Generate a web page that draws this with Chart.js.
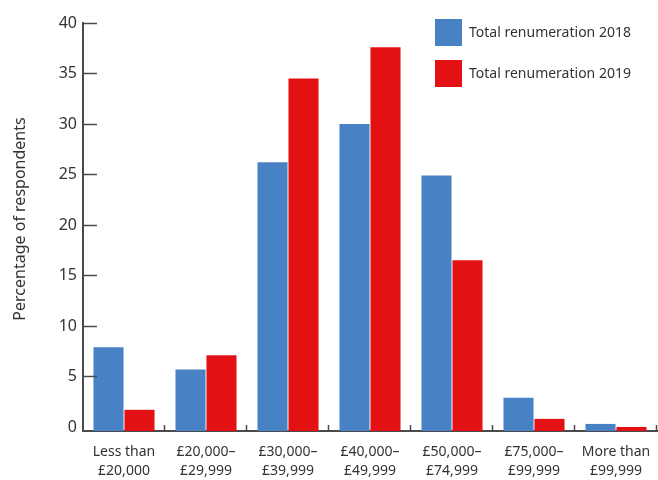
<!DOCTYPE html>
<html>
<head>
<meta charset="utf-8">
<script src="https://cdn.jsdelivr.net/npm/chart.js@4/dist/chart.umd.min.js"></script>
<style>
  html, body { margin: 0; padding: 0; background: #ffffff; }
  #wrap { width: 658px; height: 480px; }
</style>
</head>
<body>
<div id="wrap"><canvas id="chart" width="658" height="480"></canvas></div>
<script>
// Salary bands (two-line labels)
const categories = [
  ["Less than", "£20,000"],
  ["£20,000–", "£29,999"],
  ["£30,000–", "£39,999"],
  ["£40,000–", "£49,999"],
  ["£50,000–", "£74,999"],
  ["£75,000–", "£99,999"],
  ["More than", "£99,999"]
];
// Percentage of respondents in each band
const values2018 = [7.9, 5.7, 26.2, 30.0, 24.9, 2.9, 0.3];
const values2019 = [1.7, 7.1, 34.5, 37.6, 16.5, 0.8, 0];
const seriesNames = ["Total renumeration 2018", "Total renumeration 2019"];
const yTicks = [0, 5, 10, 15, 20, 25, 30, 35, 40];

const BLUE = "#4882c4";
const RED = "#e31014";
const AXIS = "#4a4a4a";
const TEXT = "#333333";
const FONT = "'Noto Sans', sans-serif";
const Y_MIN = -0.4;

// Inward tick marks, rotated axis title and the boxed legend
const decorations = {
  id: "decorations",
  afterDraw(chart) {
    const ctx = chart.ctx;
    const area = chart.chartArea;
    const x = chart.scales.x;
    const y = chart.scales.y;
    ctx.save();
    ctx.strokeStyle = AXIS;
    ctx.lineWidth = 1.5;
    // y ticks pointing into the plot
    yTicks.forEach(v => {
      if (v === 0) return;
      const py = Math.round(y.getPixelForValue(v)) + 0.5;
      ctx.beginPath();
      ctx.moveTo(area.left, py);
      ctx.lineTo(area.left + 14, py);
      ctx.stroke();
    });
    // x ticks at category boundaries, pointing up
    const half = (x.getPixelForValue(1) - x.getPixelForValue(0)) / 2;
    for (let i = 0; i < categories.length; i++) {
      const px = Math.round(x.getPixelForValue(i) + half) - 0.5;
      ctx.beginPath();
      ctx.moveTo(px, area.bottom);
      ctx.lineTo(px, area.bottom - 6);
      ctx.stroke();
    }
    // axis title
    ctx.fillStyle = TEXT;
    ctx.font = "16px " + FONT;
    ctx.textAlign = "center";
    ctx.textBaseline = "middle";
    ctx.save();
    ctx.translate(20, 219);
    ctx.rotate(-Math.PI / 2);
    ctx.fillText("Percentage of respondents", 0, 0);
    ctx.restore();
    // legend
    ctx.font = "14px " + FONT;
    ctx.textAlign = "left";
    chart.data.datasets.forEach((ds, i) => {
      const top = 19 + i * 41;
      ctx.fillStyle = ds.backgroundColor;
      ctx.fillRect(435, top, 27, 27);
      ctx.fillStyle = TEXT;
      ctx.fillText(ds.label, 469, top + 14);
    });
    ctx.restore();
  }
};

new Chart(document.getElementById("chart"), {
  type: "bar",
  data: {
    labels: categories,
    datasets: [
      { label: seriesNames[0], data: values2018, backgroundColor: BLUE, base: Y_MIN,
        categoryPercentage: 0.756, barPercentage: 0.97 },
      { label: seriesNames[1], data: values2019, backgroundColor: RED, base: Y_MIN,
        categoryPercentage: 0.756, barPercentage: 0.97 }
    ]
  },
  options: {
    responsive: false,
    animation: false,
    layout: { padding: { top: 23, right: 1, left: 0, bottom: 0 } },
    plugins: { legend: { display: false }, tooltip: { enabled: false } },
    scales: {
      x: {
        grid: { display: false, drawTicks: false, offset: true },
        border: { display: true, color: AXIS, width: 2 },
        ticks: { color: TEXT, font: { family: FONT, size: 14, lineHeight: 1.35 }, padding: 12, maxRotation: 0, autoSkip: false },
        afterFit(s) { s.height = 49; s.paddingLeft = 0; s.paddingRight = 0; }
      },
      y: {
        min: Y_MIN,
        max: 40,
        grid: { display: false, drawTicks: false },
        border: { display: true, color: AXIS, width: 2 },
        ticks: { stepSize: 5, includeBounds: false, color: TEXT, font: { family: FONT, size: 16 }, padding: 6 },
        afterFit(s) { s.width = 83; s.paddingTop = 0; s.paddingBottom = 0; }
      }
    }
  },
  plugins: [decorations]
});
</script>
</body>
</html>
